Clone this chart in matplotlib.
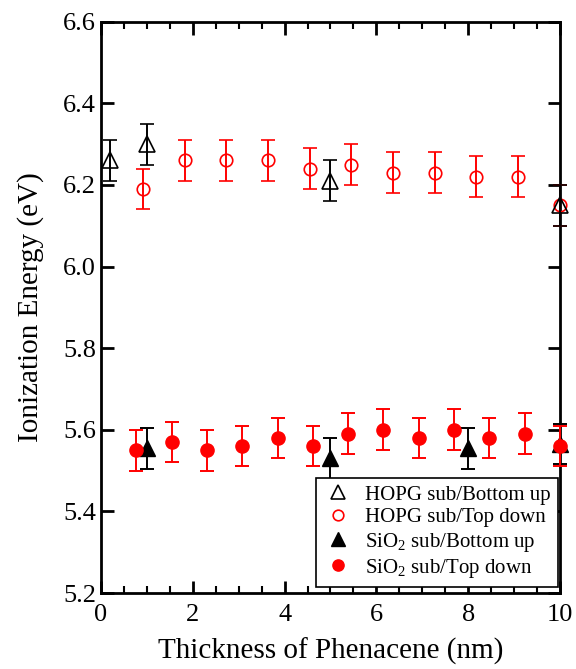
import matplotlib
matplotlib.use("Agg")
import matplotlib.pyplot as plt
from matplotlib.ticker import MultipleLocator

plt.rcParams['font.family'] = ['Liberation Serif', 'DejaVu Serif']
plt.rcParams['mathtext.fontset'] = 'custom'
plt.rcParams['mathtext.rm'] = 'Liberation Serif'

# HOPG substrate, bottom up (open black triangles)
hopg_bu_x = [0.2, 1.0, 5.0, 10.0]
hopg_bu_y = [6.26, 6.30, 6.21, 6.15]
hopg_bu_err = [0.05, 0.05, 0.05, 0.05]

# HOPG substrate, top down (open red circles)
hopg_td_x = [0.91, 1.82, 2.73, 3.64, 4.55, 5.45, 6.36, 7.27, 8.18, 9.09, 10.0]
hopg_td_y = [6.19, 6.26, 6.26, 6.26, 6.24, 6.25, 6.23, 6.23, 6.22, 6.22, 6.15]
hopg_td_err = [0.05] * 11

# SiO2 substrate, bottom up (filled black triangles)
sio2_bu_x = [1.0, 5.0, 8.0, 10.0]
sio2_bu_y = [5.555, 5.53, 5.555, 5.565]
sio2_bu_err = [0.05, 0.05, 0.05, 0.05]

# SiO2 substrate, top down (filled red circles)
sio2_td_x = [0.77, 1.54, 2.31, 3.08, 3.85, 4.62, 5.38, 6.15, 6.92, 7.69, 8.46, 9.23, 10.0]
sio2_td_y = [5.55, 5.57, 5.55, 5.56, 5.58, 5.56, 5.59, 5.60, 5.58, 5.60, 5.58, 5.59, 5.56]
sio2_td_err = [0.05] * 13

fig = plt.figure(figsize=(5.76, 6.69), dpi=100)
ax = fig.add_axes([0.1753, 0.1136, 0.7969, 0.854])

eb = dict(capsize=5, elinewidth=1.4, capthick=1.4, linestyle='none', clip_on=False)

ax.errorbar(hopg_bu_x, hopg_bu_y, yerr=hopg_bu_err, marker='^', ms=12, mfc='none',
            mec='black', mew=1.2, color='black', ecolor='black', zorder=4,
            label='HOPG sub/Bottom up', **eb)
ax.errorbar(hopg_td_x, hopg_td_y, yerr=hopg_td_err, marker='o', ms=9, mfc='none',
            mec='red', mew=1.2, color='red', ecolor='red', zorder=3,
            label='HOPG sub/Top down', **eb)
ax.errorbar(sio2_bu_x, sio2_bu_y, yerr=sio2_bu_err, marker='^', ms=12, mfc='black',
            mec='black', color='black', ecolor='black', zorder=3,
            label='SiO$_2$ sub/Bottom up', **eb)
ax.errorbar(sio2_td_x, sio2_td_y, yerr=sio2_td_err, marker='o', ms=9.5, mfc='red',
            mec='red', color='red', ecolor='red', zorder=4,
            label='SiO$_2$ sub/Top down', **eb)

ax.set_xlim(0, 10)
ax.set_ylim(5.2, 6.6)
ax.xaxis.set_major_locator(MultipleLocator(2))
ax.xaxis.set_minor_locator(MultipleLocator(0.5))
ax.yaxis.set_major_locator(MultipleLocator(0.2))
ax.yaxis.set_major_formatter(plt.FormatStrFormatter('%.1f'))
ax.tick_params(which='both', direction='in', top=True, right=True, labelsize=19)
ax.tick_params(which='major', length=9, width=2)
ax.tick_params(which='minor', length=5, width=1.5)
ax.tick_params(axis='x', pad=8)
for s in ax.spines.values():
    s.set_linewidth(2)

ax.set_xlabel('Thickness of Phenacene (nm)', fontsize=21, labelpad=8)
ax.set_ylabel('Ionization Energy (eV)', fontsize=21, labelpad=14)

handles, labels = ax.get_legend_handles_labels()
handles = [h[0] for h in handles]
leg = ax.legend(handles, labels, loc='lower right', bbox_to_anchor=(0.996, 0.0105),
                fontsize=15, frameon=True, fancybox=False, edgecolor='black',
                framealpha=1, borderaxespad=0, borderpad=0.35, handletextpad=0.6,
                labelspacing=0.15, markerscale=0.85, handlelength=1.4)
leg.get_frame().set_linewidth(1.2)

fig.savefig('out.png', dpi=100)
